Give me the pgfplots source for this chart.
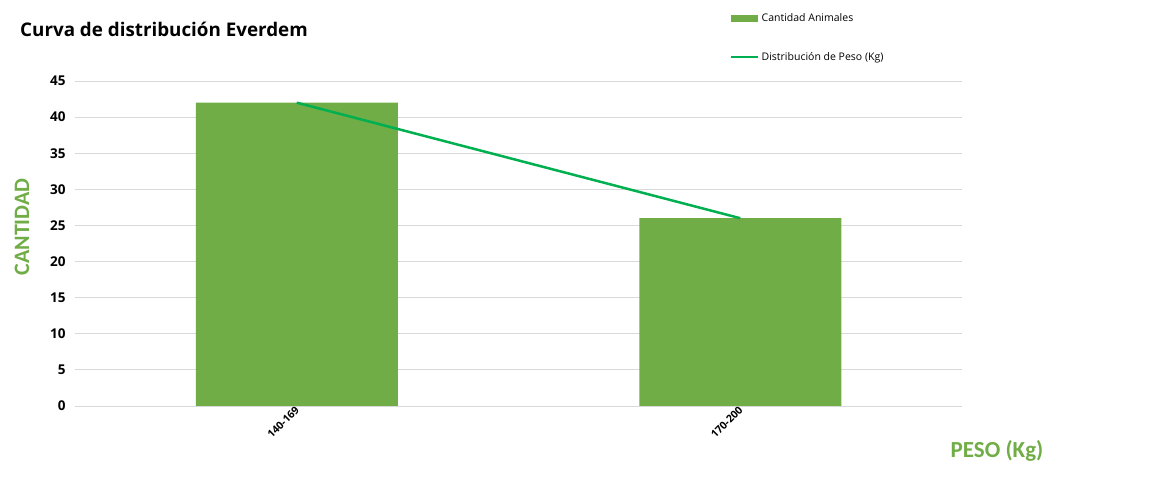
\documentclass[border=0pt]{standalone}
\usepackage{pgfplots}
\pgfplotsset{compat=1.18}
\usepackage{fontspec}
\setmainfont{Carlito}
\newfontfamily\titlefont{Open Sans}
\definecolor{barg}{HTML}{70AD47}
\definecolor{lineg}{HTML}{00B050}
\definecolor{gridg}{HTML}{D9D9D9}
\begin{document}
\begin{tikzpicture}[x=1pt,y=1pt]
\path (0,0) rectangle (1152,497);
\begin{axis}[at={(75pt,91pt)}, anchor=south west, scale only axis,
  width=887pt, height=325pt,
  xmin=-0.5, xmax=1.5, ymin=0, ymax=45, ytick={0,5,...,45},
  xtick={0,1}, xticklabels={140-169,170-200},
  /pgf/number format/assume math mode=true,
  axis line style={draw=none}, major tick length=0pt,
  ymajorgrids, grid style={gridg, line width=0.8pt},
  yticklabel style={font=\titlefont\bfseries\fontsize{13.5}{13.5}\selectfont, xshift=-6pt},
  xticklabel style={rotate=45, anchor=east, font=\titlefont\bfseries\fontsize{10.5}{10.5}\selectfont, xshift=2pt, yshift=-2pt},
  legend style={draw=none, fill=none, at={(0.7384,1.214)}, anchor=north west,
    font=\titlefont\fontsize{10.5}{13}\selectfont, row sep=25pt, inner sep=0pt},
  legend cell align=left,
]
\addplot[ybar, bar width=202pt, fill=barg, draw=none,
  legend image code/.code={\fill[barg] (0pt,-3.5pt) rectangle (27pt,3.5pt);}]
  coordinates {(0,42) (1,26)};
\addlegendentry{Cantidad Animales}
\addplot[lineg, line width=2.5pt,
  legend image code/.code={\draw[lineg, line width=2.5pt] (0pt,0pt) -- (27pt,0pt);}]
  coordinates {(0,42) (1,26)};
\addlegendentry{Distribución de Peso (Kg)}
\end{axis}
\node[anchor=west, inner sep=0pt, font=\titlefont\bfseries\fontsize{18.8}{18.8}\selectfont] at (20,468) {Curva de distribución Everdem};
\node[rotate=90, inner sep=0pt, text=barg, font=\bfseries\fontsize{22}{22}\selectfont] at (22,270) {CANTIDAD};
\node[inner sep=0pt, text=barg, font=\bfseries\fontsize{23}{23}\selectfont] at (997,46) {PESO (Kg)};
\end{tikzpicture}
\end{document}
